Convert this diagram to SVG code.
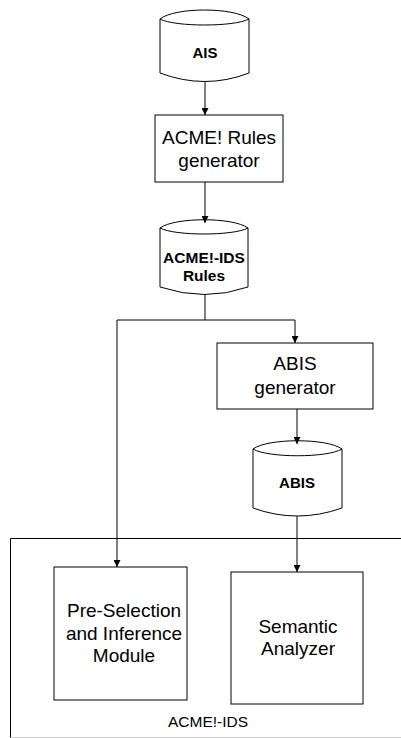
<svg xmlns="http://www.w3.org/2000/svg" width="401" height="738" viewBox="0 0 401 738">
<defs>
<style>
.shape{fill:#fff;stroke:#000;stroke-width:1}
.edge{fill:none;stroke:#000;stroke-width:1}
.t{font-family:"Liberation Sans",Arial,sans-serif;font-size:19px;fill:#000;text-anchor:middle}
.b{font-family:"Liberation Sans",Arial,sans-serif;font-size:15px;font-weight:bold;fill:#000;text-anchor:middle}
</style>
<marker id="arr" markerWidth="7" markerHeight="7" refX="7" refY="3.5" orient="auto" markerUnits="userSpaceOnUse">
<path d="M0,0 L7,3.5 L0,7 Z" fill="#000"/>
</marker>
</defs>
<rect width="401" height="738" fill="#fff"/>
<g id="container">
<path d="M10.5,737.5 L401,737.5" fill="none" stroke="#c8c8c8" stroke-width="1"/>
<path d="M10.5,737.5 L10.5,538.5 L401,538.5" fill="none" stroke="#000" stroke-width="1"/>
<text class="t" x="208" y="727" style="font-size:15.5px">ACME!-IDS</text>
</g>
<g id="ais">
<path class="shape" d="M160,19 C175,7 234,7 249,19 L249,73 Q205,90 160,73 Z"/>
<path class="edge" d="M160,19 C175,27 234,27 249,19"/>
<text class="b" x="205" y="58">AIS</text>
</g>
<g id="rules-gen">
<rect class="shape" x="155" y="115" width="128" height="67"/>
<text class="t" x="219" y="144">ACME! Rules</text>
<text class="t" x="219" y="167">generator</text>
</g>
<g id="ids-rules">
<path class="shape" d="M160,228 C175,217 233,217 248,228 L248,287 Q205,302 160,287 Z"/>
<path class="edge" d="M160,228 C175,236 233,236 248,228"/>
<text class="b" x="204" y="263" style="font-size:15.5px">ACME!-IDS</text>
<text class="b" x="204" y="281" style="font-size:15.5px">Rules</text>
</g>
<g id="abis-gen">
<rect class="shape" x="217" y="343" width="156" height="66"/>
<text class="t" x="295" y="370">ABIS</text>
<text class="t" x="295" y="394">generator</text>
</g>
<g id="abis">
<path class="shape" d="M253,449 C268,438 327,438 342,449 L342,508 Q297,524 253,508 Z"/>
<path class="edge" d="M253,449 C268,458 327,458 342,449"/>
<text class="b" x="297" y="488">ABIS</text>
</g>
<g id="preselection">
<rect class="shape" x="54" y="567" width="133" height="133"/>
<text class="t" x="124" y="617">Pre-Selection</text>
<text class="t" x="124" y="640">and Inference</text>
<text class="t" x="124" y="662">Module</text>
</g>
<g id="semantic">
<rect class="shape" x="231" y="572" width="132" height="132"/>
<text class="t" x="298" y="633">Semantic</text>
<text class="t" x="298" y="655">Analyzer</text>
</g>
<g id="connectors">
<path class="edge" d="M205,82 L205,115" marker-end="url(#arr)"/>
<path class="edge" d="M205,182 L205,223" marker-end="url(#arr)"/>
<path class="edge" d="M205,294 L205,320 L295,320 L295,343" marker-end="url(#arr)"/>
<path class="edge" d="M205,320 L117,320 L117,567" marker-end="url(#arr)"/>
<path class="edge" d="M297,409 L297,444" marker-end="url(#arr)"/>
<path class="edge" d="M297,516 L297,572" marker-end="url(#arr)"/>
</g>
</svg>
